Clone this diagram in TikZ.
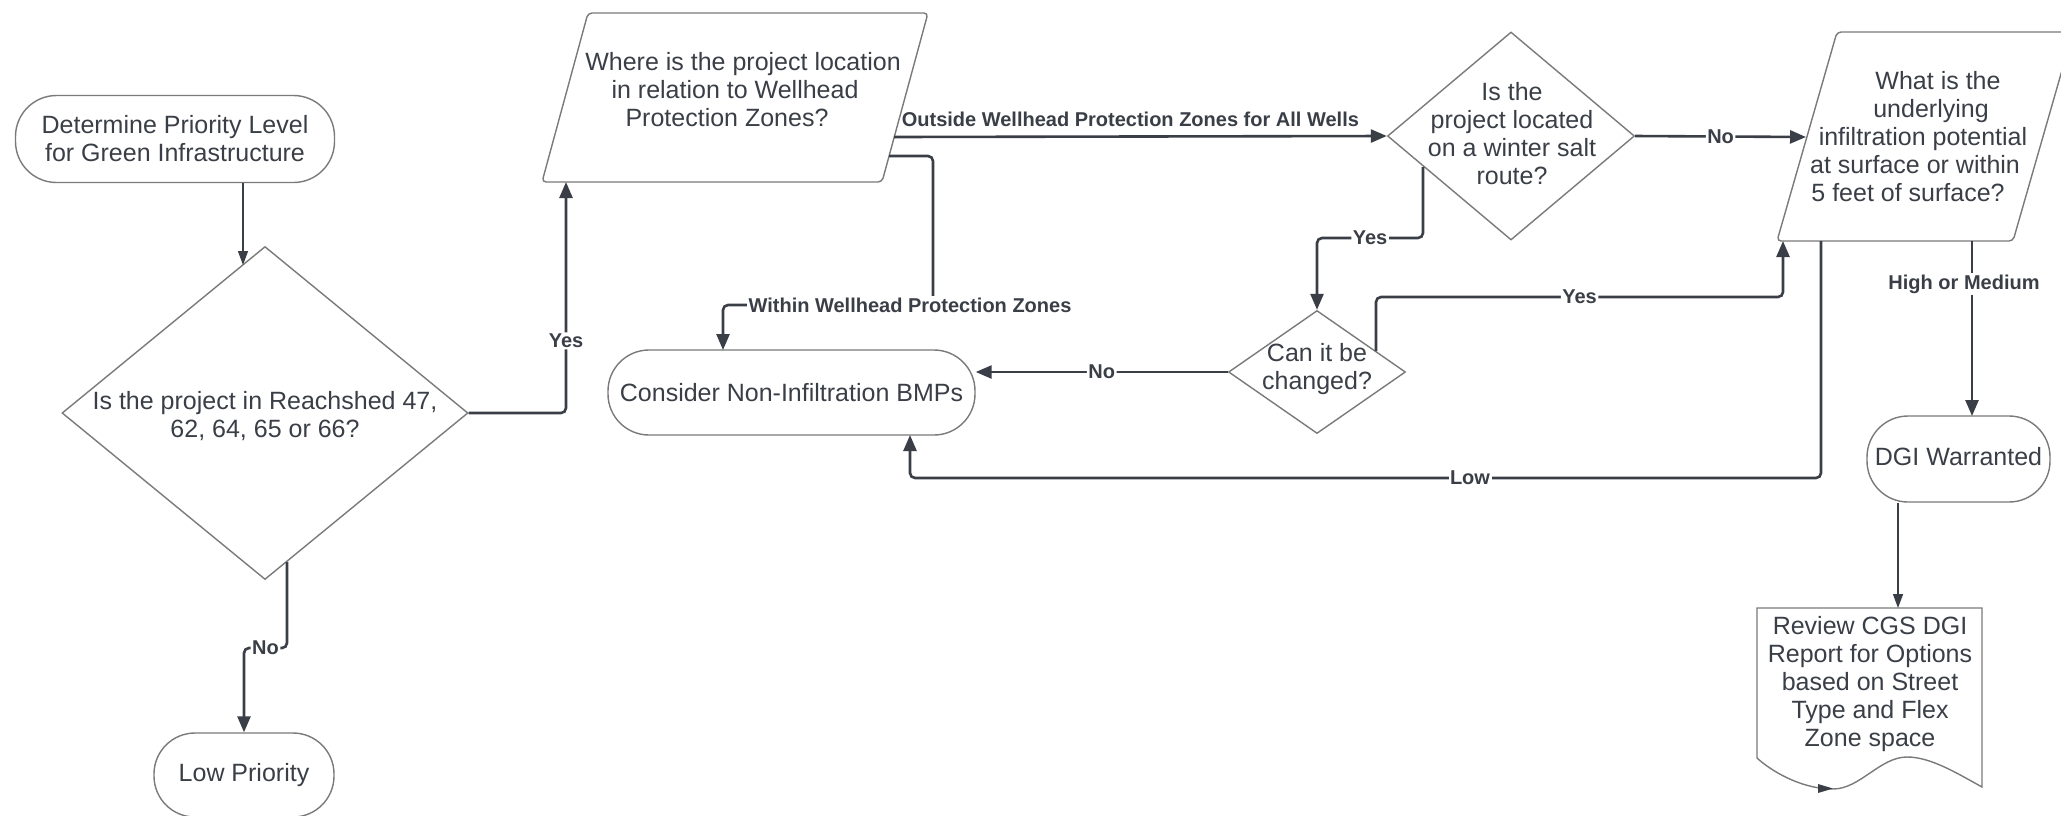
\documentclass[tikz,border=0pt]{standalone}
\usepackage{fontspec}
\setmainfont{Liberation Sans}
\usetikzlibrary{arrows.meta,shapes.geometric,calc}
\definecolor{ink}{HTML}{3A3F47}
\definecolor{edge}{HTML}{7A7A7A}
\begin{document}
\begin{tikzpicture}[x=1pt,y=-1pt,
  txt/.style={font=\fontsize{25}{28}\selectfont, text=ink, align=center, inner sep=0pt},
  term/.style={draw=edge, line width=1.4pt, rounded corners=41pt, inner sep=0pt, fill=white},
  dia/.style={diamond, draw=edge, line width=1.4pt, inner sep=0pt, fill=white},
  shp/.style={draw=edge, line width=1.4pt, rounded corners=4pt, fill=white},
  conn/.style={draw=ink, line width=2.6pt, rounded corners=5pt, -{Triangle[length=16pt,width=13pt]}},
  thinconn/.style={draw=ink, line width=1.4pt, -{Triangle[length=14pt,width=10pt]}},
  lbl/.style={font=\fontsize{20}{22}\selectfont\bfseries, text=ink, fill=white, inner sep=1.5pt},
  lblt/.style={font=\fontsize{20}{22}\selectfont\bfseries, text=ink, inner sep=1.5pt}
]
\useasboundingbox[fill=white] (0,0) rectangle (2061,815);

% ---------- shapes ----------
\node[term, txt, minimum width=319, minimum height=87] (start) at (175,139)
  {Determine Priority Level\\for Green Infrastructure};

\node[dia, minimum width=406, minimum height=333] (d1) at (265,413) {};
\node[txt] (d1t) at (265,416) {Is the project in Reachshed 47,\\62, 64, 65 or 66?};

\node[term, txt, minimum width=180, minimum height=84] (lowp) at (244,775) {Low Priority};

\draw[shp] (588,13) -- (928,13) -- (882,182) -- (542,182) -- cycle;
\node[txt] (p1) at (735,90)
  {\hspace*{16pt}Where is the project location\\in relation to Wellhead\\Protection Zones?\hspace*{16pt}\null};

\node[term, txt, minimum width=367, minimum height=85] (cons) at (791.5,392.5)
  {Consider Non-Infiltration BMPs};

\node[dia, minimum width=247, minimum height=208] (d2) at (1511,136) {};
\node[txt] (d2t) at (1512,134) {Is the\\project located\\on a winter salt\\route?};

\node[dia, minimum width=177, minimum height=123] (d3) at (1317,372) {};
\node[txt] (d3t) at (1317,369) {Can it be\\changed?};

\draw[shp] (1837,32) -- (2073,32) -- (2013,241) -- (1777,241) -- cycle;
\node[txt] (p2) at (1923,137)
  {\hspace*{30pt}What is the\\\hspace*{16pt}underlying\\infiltration potential\\at surface or within\hspace*{16pt}\null\\5 feet of surface?\hspace*{30pt}\null};

\node[term, txt, minimum width=183, minimum height=86] (dgi) at (1958.5,459) {};
\node[txt] (dgit) at (1958.5,457) {DGI Warranted};

\draw[shp, rounded corners=0pt] (1757,608) -- (1982,608) -- (1982,787)
  .. controls (1955,772) and (1930,757) .. (1907,757)
  .. controls (1880,757) and (1860,789) .. (1833,789)
  .. controls (1800,789) and (1770,770) .. (1757,758) -- cycle;
\fill[ink] (1818,784) -- (1833,788.5) -- (1818,793) -- cycle;
\node[txt] (doc) at (1870,684)
  {Review CGS DGI\\Report for Options\\based on Street\\Type and Flex\\Zone space};

% ---------- anchor points ----------
\coordinate (c1b) at (243,265);
\coordinate (d1no) at (287,562);
\coordinate (p1in) at (566,182);
\coordinate (p1out) at (894,137);
\coordinate (p1w) at (889,156);
\coordinate (w1) at (933,305);
\coordinate (consin) at (723,350);
\coordinate (p2no) at (1806,137);
\coordinate (d2y) at (1423,167);
\coordinate (d3y) at (1376,351);
\coordinate (p2in) at (1783,241);
\coordinate (p2low) at (1821,241);
\coordinate (consbot) at (910,435);
\coordinate (p2hm) at (1972,241);
\coordinate (dgiin) at (1972,416);
\coordinate (docin) at (1898,608);

% ---------- connectors ----------
\draw[thinconn] (start.south -| c1b) -- (c1b);
\draw[conn] (d1no) -- ++(0,86) -| (lowp.north) node[lbl, pos=0.25] (lno1) {No};
\draw[conn] (d1.east) -| (p1in) node[lbl, pos=0.656] (lyes1) {Yes};
\draw[conn] (p1out) -- (d2.west)
  node[lblt, pos=0, anchor=west, xshift=5pt, yshift=18pt] (lout) {Outside Wellhead Protection Zones for All Wells};
\draw[conn] (p1w) -| (w1) -| (consin);
\node[lbl] (lwithin) at (910,305) {Within Wellhead Protection Zones};
\draw[conn] (d2.east) -- (p2no) node[lbl, pos=0.5] (lno2) {No};
\draw[conn] (d2y) -- ++(0,71) -| (d3.north) node[lbl, pos=0.25] (lyes2) {Yes};
\draw[conn] (d3y) -- ++(0,-54) -| (p2in) node[lbl, pos=0.25] (lyes3) {Yes};
\draw[conn] (d3.west) -- (d3.west -| cons.east) node[lbl, pos=0.5] (lno3) {No};
\draw[conn] (p2low) -- ++(0,237) -| (consbot);
\node[lbl] (llow) at (1470,478) {Low};
\draw[conn] (p2hm) -- (dgiin);
\node[lbl] (lhm) at (1964,284) {High or Medium};
\draw[thinconn] (dgi.south -| docin) -- (docin);
\end{tikzpicture}
\end{document}
